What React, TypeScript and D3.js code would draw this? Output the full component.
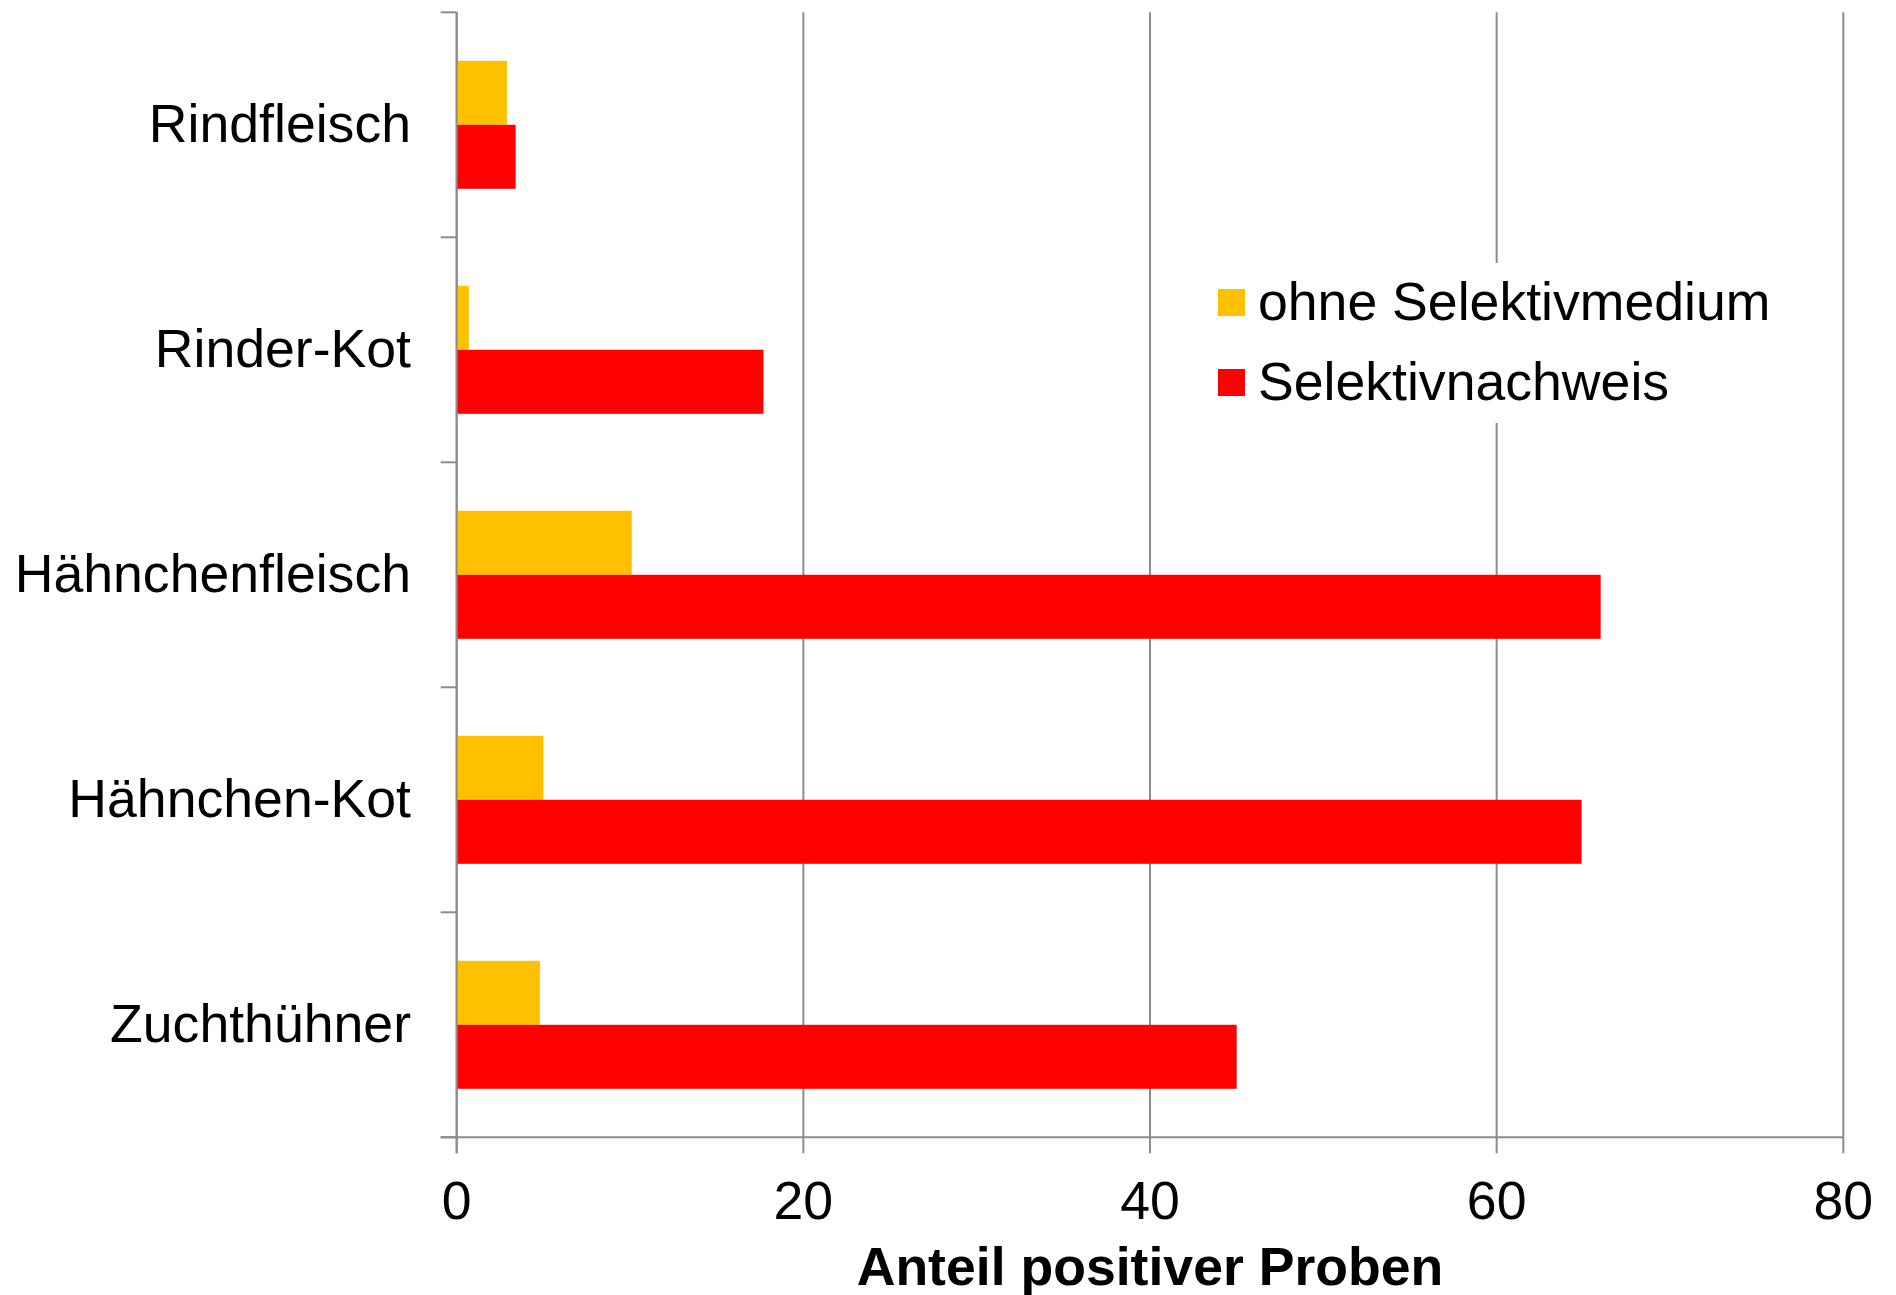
import React from "react";
import * as d3 from "d3";

const categories = ["Rindfleisch", "Rinder-Kot", "Hähnchenfleisch", "Hähnchen-Kot", "Zuchthühner"];
const seriesNames = ["ohne Selektivmedium", "Selektivnachweis"];
const ohneSelektiv = [2.9, 0.7, 10.1, 5.0, 4.8];
const selektivNachweis = [3.4, 17.7, 66.0, 64.9, 45.0];
const seriesColors = ["#FFC000", "#FF0000"];
const xTicks = [0, 20, 40, 60, 80];
const xTitle = "Anteil positiver Proben";

const W = 1896;
const H = 1295;
const FONT = "'Liberation Sans', Arial, Helvetica, sans-serif";
const GRID = "#8c8c8c";
const FS = 53.6;

export default function App() {
  const left = 456.7;
  const right = 1843.3;
  const top = 12.3;
  const bottom = 1137.3;

  const x = d3.scaleLinear().domain([0, 80]).range([left, right]);
  const y0 = d3.scaleBand<string>().domain(categories).range([top, bottom]).padding(0);
  const y1 = d3
    .scaleBand<string>()
    .domain(seriesNames)
    .range([0, y0.step()])
    .paddingInner(0)
    .paddingOuter(0.758);

  const values = [ohneSelektiv, selektivNachweis];
  const boundaries = categories.map((c) => y0(c) as number).concat([bottom]);

  return (
    <svg
      width={W}
      height={H}
      viewBox={`0 0 ${W} ${H}`}
      style={{ position: "absolute", left: 0, top: 0, display: "block", background: "#fff" }}
    >
      <rect x={0} y={0} width={W} height={H} fill="#fff" />
      {xTicks.map((t) => (
        <line
          key={"g" + t}
          x1={x(t)}
          x2={x(t)}
          y1={top}
          y2={bottom + 16}
          stroke={GRID}
          strokeWidth={2}
        />
      ))}
      {boundaries.map((b, i) => (
        <line key={"yt" + i} x1={left - 16} x2={left} y1={b} y2={b} stroke={GRID} strokeWidth={2} />
      ))}
      <line x1={left - 16} x2={right} y1={bottom} y2={bottom} stroke={GRID} strokeWidth={2} />
      {categories.map((c, ci) => (
        <g key={c} transform={`translate(0,${y0(c)})`}>
          {seriesNames.map((s, si) => (
            <rect
              key={s}
              x={x(0)}
              y={y1(s) as number}
              width={x(values[si][ci]) - x(0)}
              height={y1.bandwidth()}
              fill={seriesColors[si]}
            />
          ))}
        </g>
      ))}
      <line x1={left} x2={left} y1={top} y2={bottom + 16} stroke={GRID} strokeWidth={2} />
      {categories.map((c) => (
        <text
          key={"l" + c}
          x={411}
          y={(y0(c) as number) + y0.bandwidth() / 2 + 17.5}
          textAnchor="end"
          fontFamily={FONT}
          fontSize={FS}
          fill="#000"
        >
          {c}
        </text>
      ))}
      {xTicks.map((t) => (
        <text
          key={"xl" + t}
          x={x(t)}
          y={1219}
          textAnchor="middle"
          fontFamily={FONT}
          fontSize={FS}
          fill="#000"
        >
          {t}
        </text>
      ))}
      <text
        x={(left + right) / 2}
        y={1285}
        textAnchor="middle"
        fontFamily={FONT}
        fontSize={FS}
        fontWeight="bold"
        fill="#000"
      >
        {xTitle}
      </text>
      <g>
        <rect x={1200} y={263} width={600} height={160} fill="#fff" />
        {seriesNames.map((s, i) => (
          <g key={"lg" + s} transform={`translate(1218,${289 + i * 80})`}>
            <rect x={0} y={0} width={27} height={27} fill={seriesColors[i]} />
            <text x={40} y={31} fontFamily={FONT} fontSize={FS} fill="#000">
              {s}
            </text>
          </g>
        ))}
      </g>
    </svg>
  );
}
